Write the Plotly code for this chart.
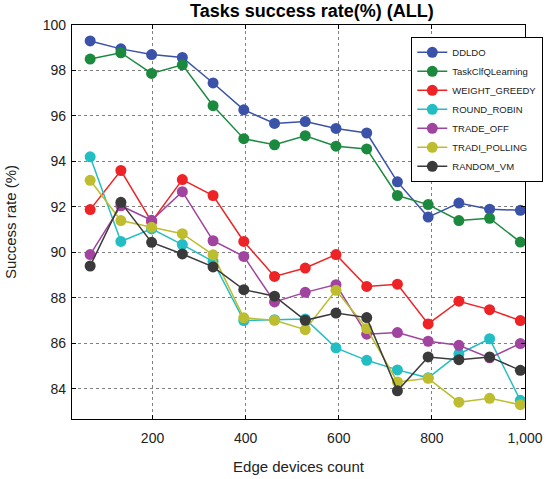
import plotly.graph_objects as go

edge_devices = [66, 132, 198, 264, 330, 396, 462, 528, 594, 660, 726, 792, 858, 924, 990]

ddldo = [99.3, 98.95, 98.7, 98.57, 97.45, 96.27, 95.67, 95.75, 95.45, 95.25, 93.1, 91.55, 92.17, 91.9, 91.85]
task_clfq = [98.5, 98.78, 97.87, 98.25, 96.45, 95.0, 94.73, 95.13, 94.67, 94.55, 92.5, 92.1, 91.4, 91.5, 90.45]
weight_greedy = [91.88, 93.6, 91.35, 93.2, 92.5, 90.48, 88.94, 89.31, 89.9, 88.5, 88.6, 86.85, 87.85, 87.48, 87.0]
round_robin = [94.2, 90.48, 91.03, 90.34, 89.6, 87.0, 87.04, 87.07, 85.8, 85.25, 84.83, 84.48, 85.53, 86.2, 83.49]
trade_off = [89.9, 92.05, 91.41, 92.67, 90.51, 89.82, 87.82, 88.24, 88.58, 86.4, 86.47, 86.09, 85.91, 85.36, 85.99]
tradi_polling = [93.17, 91.4, 91.1, 90.82, 89.89, 87.12, 87.01, 86.6, 88.33, 86.65, 84.3, 84.46, 83.41, 83.58, 83.3]
random_vm = [89.4, 92.2, 90.44, 89.93, 89.36, 88.36, 88.07, 87.01, 87.33, 87.13, 83.91, 85.4, 85.28, 85.4, 84.81]

series_names = ["DDLDO", "TaskClfQLearning", "WEIGHT_GREEDY", "ROUND_ROBIN",
                "TRADE_OFF", "TRADI_POLLING", "RANDOM_VM"]
series_values = [ddldo, task_clfq, weight_greedy, round_robin, trade_off, tradi_polling, random_vm]
series_colors = ["#3A52A8", "#1B8A3E", "#EE2326", "#22BEC4", "#A0449F", "#BDBD2F", "#3A3A3A"]

x_ticks = [200, 400, 600, 800, 1000]
y_ticks = [84, 86, 88, 90, 92, 94, 96, 98, 100]

FONT = "Arial, 'Liberation Sans', sans-serif"

fig = go.Figure()
for name, vals, col in zip(series_names, series_values, series_colors):
    fig.add_trace(go.Scatter(
        x=edge_devices, y=vals, name=name, mode="lines+markers",
        line=dict(color=col, width=1.5),
        marker=dict(color=col, size=11),
    ))

axis_common = dict(
    showline=True, linecolor="black", linewidth=1.2, mirror="ticks",
    ticks="inside", ticklen=4, tickcolor="black",
    showgrid=True, gridcolor="#808080", griddash="dot", gridwidth=1,
    zeroline=False, automargin=False,
    tickfont=dict(size=14, color="#222", family=FONT),
)

fig.update_xaxes(
    range=[27, 1000], tickvals=x_ticks, tickformat=",",
    title=dict(text="Edge devices count", font=dict(size=15, color="#222", family=FONT), standoff=16),
    ticklabelstandoff=6,
    **axis_common,
)
fig.update_yaxes(
    range=[82.67, 100], tickvals=y_ticks,
    title=dict(text="Success rate (%)", font=dict(size=15, color="#222", family=FONT), standoff=22),
    ticklabelstandoff=2,
    **axis_common,
)

fig.update_layout(
    width=555, height=479,
    margin=dict(l=72, r=20, t=25, b=60),
    paper_bgcolor="white", plot_bgcolor="white",
    font=dict(family=FONT, color="#222"),
    title=dict(text="<b>Tasks success rate(%) (ALL)</b>", x=0.562, xanchor="center",
               y=0.977, yanchor="middle", font=dict(size=18, color="black", family=FONT)),
    legend=dict(
        x=0.749, y=0.97, xanchor="left", yanchor="top",
        bgcolor="white", bordercolor="black", borderwidth=1,
        font=dict(size=9.5, color="#222", family=FONT),
        itemwidth=30, tracegroupgap=0,
    ),
    showlegend=True,
)

fig.write_html(
    "out.html",
    config={"displayModeBar": False, "responsive": False},
    post_script="document.body.style.margin='0px';document.body.style.overflow='hidden';",
)
